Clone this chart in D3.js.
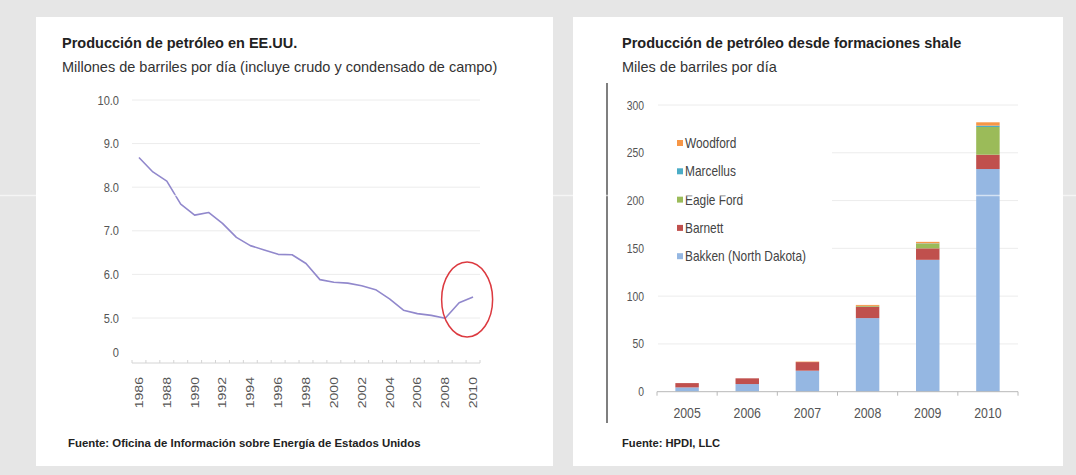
<!DOCTYPE html>
<html>
<head>
<meta charset="utf-8">
<script src="https://cdn.jsdelivr.net/npm/d3@7"></script>
<style>
  html, body { margin: 0; padding: 0; background: #e6e6e6; }
  svg { display: block; font-family: "Liberation Sans", Arial, sans-serif; }
</style>
</head>
<body>
<svg id="root" width="1076" height="475"></svg>
<script>
// US oil production, million barrels per day
const usYears = d3.range(1986, 2011)
const usProduction = [
  8.68, 8.35, 8.14, 7.61, 7.36, 7.42, 7.17, 6.85, 6.66, 6.56, 6.46, 6.45, 6.25,
  5.88, 5.82, 5.80, 5.74, 5.65, 5.44, 5.18, 5.10, 5.06, 4.95, 5.35, 5.48
]
const usTicks = [0, 5, 6, 7, 8, 9, 10]

// Shale oil production, thousand barrels per day
const shaleYears = ["2005", "2006", "2007", "2008", "2009", "2010"]
const bakken = [4.5, 8, 22, 77, 138, 233]
const barnett = [4.5, 6, 9, 12, 12, 15]
const eagleFord = [0, 0, 0, 0.8, 5, 29]
const marcellus = [0, 0, 0, 0, 0.3, 1.4]
const woodford = [0, 0, 0.5, 1, 1.5, 3.5]
const shaleTicks = [0, 50, 100, 150, 200, 250, 300]
const shaleSeries = [
  { key: "bakken", name: "Bakken (North Dakota)", colour: "#95b7e2", values: bakken },
  { key: "barnett", name: "Barnett", colour: "#c0504d", values: barnett },
  { key: "eagleFord", name: "Eagle Ford", colour: "#9bbb59", values: eagleFord },
  { key: "marcellus", name: "Marcellus", colour: "#4bacc6", values: marcellus },
  { key: "woodford", name: "Woodford", colour: "#f79646", values: woodford }
]

const svg = d3.select("#root")

// No narrow font is installed, so squeeze regular text horizontally
function narrowText(sel, sx) {
  sel.attr("transform", function() {
    let t = d3.select(this).attr("transform") || ""
    return `${t} scale(${sx},1)`
  })
}

svg.append("rect")
  .attr("width", 1076)
  .attr("height", 475)
  .attr("fill", "#e6e6e6")

// Panels
svg.append("rect").attr("x", 36).attr("y", 17).attr("width", 517).attr("height", 449).attr("fill", "#fff")
svg.append("rect").attr("x", 573).attr("y", 17).attr("width", 490).attr("height", 449).attr("fill", "#fff")

/* ---- Left: US production line chart ---- */
let left = svg.append("g").attr("class", "usChart")

left.append("text")
  .attr("x", 62).attr("y", 48)
  .attr("font-size", 14.5).attr("font-weight", "bold").attr("fill", "#222")
  .text("Producción de petróleo en EE.UU.")
left.append("text")
  .attr("x", 62).attr("y", 72)
  .attr("font-size", 14.5).attr("fill", "#333")
  .text("Millones de barriles por día (incluye crudo y condensado de campo)")

let xUs = d3.scaleBand()
  .domain(usYears)
  .range([132, 480])
let yUs = d3.scaleLinear()
  .domain([0, 5, 10])
  .range([352, 318, 100])

left.append("g")
  .selectAll("line")
  .data(usTicks.filter(t => t > 0))
  .join("line")
  .attr("x1", 132).attr("x2", 480)
  .attr("y1", d => yUs(d)).attr("y2", d => yUs(d))
  .attr("stroke", "#ececec")

left.append("g")
  .selectAll("text")
  .data(usTicks)
  .join("text")
  .attr("transform", d => `translate(119,${yUs(d) + 4.5})`)
  .attr("text-anchor", "end")
  .attr("font-size", 13)
  .attr("fill", "#555")
  .text(d => d === 0 ? "0" : d3.format(".1f")(d))
  .call(narrowText, 0.85)

// x axis with ticks at band edges
let xAxisUs = left.append("g").attr("transform", "translate(0,363)")
xAxisUs.append("line")
  .attr("x1", 132).attr("x2", 480)
  .attr("stroke", "#d4d4d4")
xAxisUs.selectAll("line.tick")
  .data(usYears.concat([2011]))
  .join("line")
  .attr("class", "tick")
  .attr("x1", d => d === 2011 ? 480 : xUs(d))
  .attr("x2", d => d === 2011 ? 480 : xUs(d))
  .attr("y1", 0).attr("y2", -3)
  .attr("stroke", "#d4d4d4")
xAxisUs.selectAll("text")
  .data(usYears.filter(d => d % 2 === 0))
  .join("text")
  .attr("transform", d => `translate(${xUs(d) + xUs.bandwidth() / 2 + 4},14) rotate(-90)`)
  .attr("text-anchor", "end")
  .attr("font-size", 11)
  .attr("fill", "#555")
  .text(d => d)
  .call(narrowText, 1.28)

let line = d3.line()
  .x((d, i) => xUs(usYears[i]) + xUs.bandwidth() / 2)
  .y(d => yUs(d))

left.append("path")
  .datum(usProduction)
  .attr("d", line)
  .attr("fill", "none")
  .attr("stroke", "#9188cc")
  .attr("stroke-width", 1.6)
  .attr("stroke-linejoin", "round")

// Highlight of the recent rise
left.append("ellipse")
  .attr("cx", (xUs(2008) + xUs(2010)) / 2 + xUs.bandwidth() / 2 + 8)
  .attr("cy", 299.5)
  .attr("rx", 25.5).attr("ry", 37.5)
  .attr("fill", "none")
  .attr("stroke", "#dc3a40")
  .attr("stroke-width", 1.5)

left.append("text")
  .attr("x", 68).attr("y", 447)
  .attr("font-size", 11.4).attr("font-weight", "bold").attr("fill", "#222")
  .text("Fuente: Oficina de Información sobre Energía de Estados Unidos")

/* ---- Right: shale production stacked bars ---- */
let right = svg.append("g").attr("class", "shaleChart")

right.append("text")
  .attr("x", 622).attr("y", 48)
  .attr("font-size", 14.5).attr("font-weight", "bold").attr("fill", "#222")
  .text("Producción de petróleo desde formaciones shale")
right.append("text")
  .attr("x", 622).attr("y", 72)
  .attr("font-size", 14.5).attr("fill", "#333")
  .text("Miles de barriles por día")

right.append("line")
  .attr("x1", 607).attr("x2", 607)
  .attr("y1", 83).attr("y2", 423)
  .attr("stroke", "#555").attr("stroke-width", 1.5)

let xShale = d3.scaleBand()
  .domain(shaleYears)
  .range([657, 1018])
  .paddingInner(0.61)
  .paddingOuter(0.305)
let yShale = d3.scaleLinear()
  .domain([0, 300])
  .range([391.7, 105])

right.append("g")
  .selectAll("line")
  .data(shaleTicks.filter(t => t > 0))
  .join("line")
  .attr("x1", 658).attr("x2", 1018)
  .attr("y1", d => yShale(d)).attr("y2", d => yShale(d))
  .attr("stroke", "#ececec")

right.append("g")
  .selectAll("text")
  .data(shaleTicks)
  .join("text")
  .attr("transform", d => `translate(644,${yShale(d) + 4.5})`)
  .attr("text-anchor", "end")
  .attr("font-size", 13)
  .attr("fill", "#555")
  .text(d => d)
  .call(narrowText, 0.8)

let table = shaleYears.map((year, i) => {
  let row = { year }
  shaleSeries.forEach(s => row[s.key] = s.values[i])
  return row
})
let stacked = d3.stack().keys(shaleSeries.map(s => s.key))(table)

right.append("g")
  .selectAll("g")
  .data(stacked)
  .join("g")
  .attr("fill", (d, i) => shaleSeries[i].colour)
  .selectAll("rect")
  .data(d => d)
  .join("rect")
  .attr("x", d => xShale(d.data.year))
  .attr("width", xShale.bandwidth())
  .attr("y", d => yShale(d[1]))
  .attr("height", d => yShale(d[0]) - yShale(d[1]))

let xAxisShale = right.append("g").attr("transform", "translate(0,391.7)")
xAxisShale.append("line")
  .attr("x1", 657).attr("x2", 1018)
  .attr("stroke", "#b8b8b8")
xAxisShale.selectAll("line.tick")
  .data(shaleYears.concat(["end"]))
  .join("line")
  .attr("class", "tick")
  .attr("x1", d => d === "end" ? 1018 : xShale(d) - xShale.step() * xShale.paddingInner() / 2)
  .attr("x2", d => d === "end" ? 1018 : xShale(d) - xShale.step() * xShale.paddingInner() / 2)
  .attr("y1", 0).attr("y2", 4)
  .attr("stroke", "#b8b8b8")
xAxisShale.selectAll("text")
  .data(shaleYears)
  .join("text")
  .attr("transform", d => `translate(${xShale(d) + xShale.bandwidth() / 2},26.5)`)
  .attr("text-anchor", "middle")
  .attr("font-size", 14)
  .attr("fill", "#555")
  .text(d => d)
  .call(narrowText, 0.88)

// Legend, on a white box that hides the gridlines behind it
let legend = right.append("g").attr("class", "legend")
legend.append("rect")
  .attr("x", 658).attr("y", 125)
  .attr("width", 174).attr("height", 145)
  .attr("fill", "#fff")
let entries = legend.selectAll("g.entry")
  .data(shaleSeries.slice().reverse())
  .join("g")
  .attr("class", "entry")
  .attr("transform", (d, i) => `translate(677,${143 + i * 28.3})`)
entries.append("rect")
  .attr("x", 0).attr("y", -3)
  .attr("width", 6).attr("height", 6)
  .attr("fill", d => d.colour)
entries.append("text")
  .attr("transform", "translate(8,5)")
  .attr("font-size", 14)
  .attr("fill", "#444")
  .text(d => d.name)
  .call(narrowText, 0.85)

right.append("text")
  .attr("x", 622).attr("y", 447)
  .attr("font-size", 11.2).attr("font-weight", "bold").attr("fill", "#222")
  .text("Fuente: HPDI, LLC")

// Faint scan line across the picture
svg.append("line")
  .attr("x1", 0).attr("x2", 1076)
  .attr("y1", 195.5).attr("y2", 195.5)
  .attr("stroke", "#fff").attr("stroke-opacity", 0.6).attr("stroke-width", 1.5)
</script>
</body>
</html>
